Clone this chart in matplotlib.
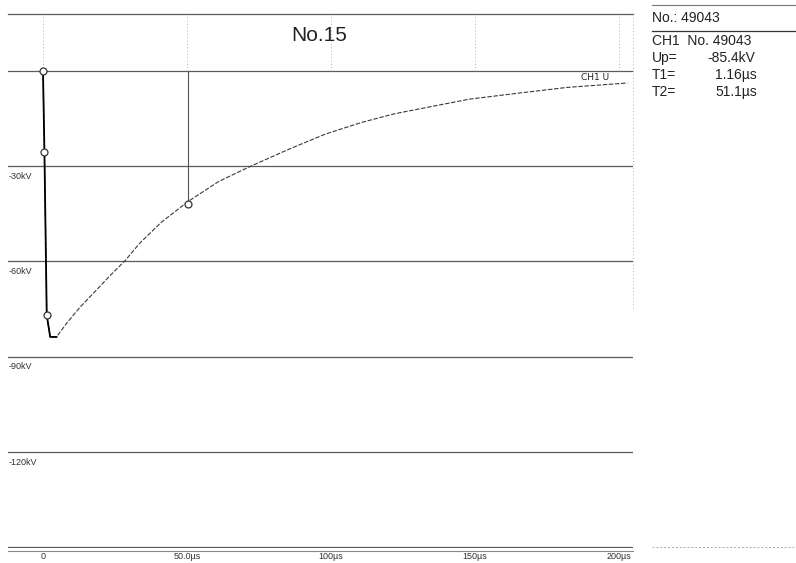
import matplotlib.pyplot as plt
from matplotlib import transforms

# impulse waveform (time in us, voltage in kV)
t_us = [0, 0.5, 1.3, 2.5, 4.7, 8.2, 12.8, 18.6, 23.3, 28.5, 33.7, 41, 50.2,
        61, 71.6, 85.5, 98, 110.7, 122, 148, 166, 182, 203]
u_kv = [0, -25.6, -76.9, -83.8, -83.8, -79.5, -74.5, -69, -64.5, -59.8, -54.2,
        -47.8, -41.3, -34.9, -30.3, -24.7, -20, -16.3, -13.6, -9.0, -7.0,
        -5.3, -3.9]

# evaluation markers: zero, 30 %, 90 %, half value
mark_t = [0, 0.5, 1.3, 50.5]
mark_u = [0, -25.6, -76.9, -42.0]

grid_kv = [0, -30, -60, -90, -120, -150]
ylabels = ["-30kV", "-60kV", "-90kV", "-120kV"]
ylabel_pos = [-30, -60, -90, -120]
xticks = [0, 50, 100, 150, 200]
xlabels = ["0", "50.0\u00b5s", "100\u00b5s", "150\u00b5s", "200\u00b5s"]

info_rows = [("Up=", "-85.4kV"), ("T1=", "1.16\u00b5s"), ("T2=", "51.1\u00b5s")]

plt.rcParams["font.family"] = ["Liberation Sans", "DejaVu Sans"]

W, H = 796, 563
fig = plt.figure(figsize=(W / 100, H / 100), dpi=100)
ax = fig.add_axes([8 / W, 15 / H, 625 / W, 534 / H])
ax.set_xlim(-12.15, 204.9)
ax.set_ylim(-150.2, 17.8)
ax.axis("off")

gc = "#5a5a5a"
# horizontal grid
for g in grid_kv:
    ax.axhline(g, color=gc, lw=0.9)
ax.axhline(17.8, color=gc, lw=0.9, clip_on=False)
ax.axhline(-151.2, color="#888888", lw=0.8, clip_on=False)

# faint dotted verticals above zero line
for x in xticks:
    ax.plot([x, x], [0, 17.8], color="#999999", lw=0.6, ls=(0, (1, 3)))
ax.plot([204.9, 204.9], [17.8, -75], color="#999999", lw=0.6, ls=(0, (1, 3)),
        clip_on=False)

# half value marker line
ax.plot([50.5, 50.5], [0, -42.0], color="#555555", lw=0.8)

# waveform
ax.plot(t_us, u_kv, color="#3a3a3a", lw=0.8, ls=(0, (4, 1.5)))
ax.plot(t_us[:5], u_kv[:5], color="black", lw=1.3)
ax.plot(mark_t, mark_u, "o", mfc="white", mec="#333333", ms=5, mew=0.9)

ax.text(187, -2.2, "CH1 U", fontsize=6.5, color="#222222", va="center",
        family="DejaVu Sans")

# tick labels
trans = transforms.blended_transform_factory(ax.transData, ax.transAxes)
for x, lab in zip(xticks, xlabels):
    ax.text(x, -0.016, lab, transform=trans, ha="center", va="center",
            fontsize=6.5, color="#333333", clip_on=False)
for y, lab in zip(ylabel_pos, ylabels):
    ax.text(-12.0, y - 1.8, lab, ha="left", va="top", fontsize=6.5,
            color="#333333")

ax.text(96, 11.0, "No.15", fontsize=15, ha="center", va="center",
        color="#222222")

# info panel on the right
def px(x, y):
    return x / W, 1 - y / H

fig.add_artist(plt.Line2D([652 / W, 1], [1 - 5 / H] * 2, color="#777777", lw=0.8))
fig.add_artist(plt.Line2D([652 / W, 1], [1 - 31 / H] * 2, color="#333333", lw=0.9))
fig.add_artist(plt.Line2D([652 / W, 1], [1 - 547 / H] * 2, color="#aaaaaa",
                          lw=0.7, ls=(0, (2, 2))))
fig.text(*px(652, 18), "No.: 49043", fontsize=10, va="center", color="#222222")
fig.text(*px(652, 41), "CH1  No. 49043", fontsize=10, va="center", color="#222222")
for i, (k, v) in enumerate(info_rows):
    y = 58 + 17 * i
    fig.text(*px(652, y), k, fontsize=10, va="center", color="#222222")
    xv = 707 if v.startswith("-") else 715
    fig.text(*px(xv, y), v, fontsize=10, va="center", color="#222222")

fig.savefig("out.png", dpi=100, facecolor="white")
